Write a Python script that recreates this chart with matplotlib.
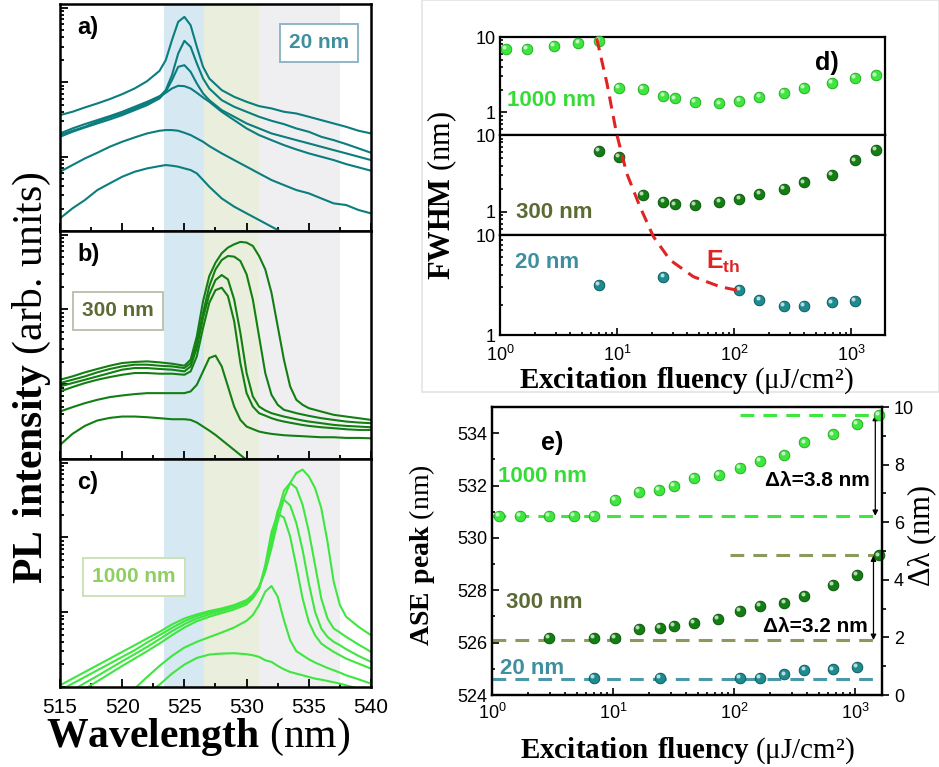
import numpy as np
import matplotlib
matplotlib.use("Agg")
import matplotlib.pyplot as plt
from matplotlib.patches import Rectangle
from matplotlib.transforms import offset_copy
from matplotlib.ticker import LogLocator, MultipleLocator, NullFormatter, FixedLocator, FixedFormatter

plt.rcParams['font.family'] = ['Liberation Sans', 'DejaVu Sans']
plt.rcParams['mathtext.fontset'] = 'custom'
plt.rcParams['mathtext.rm'] = 'Liberation Sans'
plt.rcParams['mathtext.bf'] = 'Liberation Serif:bold'

# ---------------- spectra (log10 of PL intensity, arb. units) ----------------
wl_a = [515, 516, 517, 518, 519, 520, 521, 522, 523, 523.5, 524, 524.5, 525, 525.5,
        526, 526.5, 527, 528, 529, 530, 531, 532, 533, 534, 535, 536, 537, 538, 539, 540]
a_logI = [
    [1.557, 1.602, 1.660, 1.714, 1.772, 1.839, 1.915, 2.013, 2.152, 2.295, 2.564, 2.810, 2.877, 2.765, 2.474,
     2.206, 2.049, 1.893, 1.803, 1.736, 1.678, 1.647, 1.602, 1.579, 1.535, 1.490, 1.445, 1.400, 1.347, 1.311],
    [1.289, 1.347, 1.400, 1.468, 1.526, 1.579, 1.647, 1.714, 1.803, 1.893, 2.094, 2.385, 2.555, 2.474, 2.251,
     2.049, 1.915, 1.758, 1.669, 1.602, 1.535, 1.481, 1.436, 1.378, 1.333, 1.266, 1.221, 1.168, 1.110, 1.051],
    [1.266, 1.333, 1.391, 1.445, 1.499, 1.557, 1.624, 1.691, 1.781, 1.870, 2.027, 2.206, 2.228, 2.139, 1.982,
     1.848, 1.758, 1.624, 1.535, 1.445, 1.378, 1.311, 1.266, 1.221, 1.177, 1.132, 1.087, 1.043, 0.998, 0.953],
    [1.311, 1.378, 1.436, 1.490, 1.544, 1.602, 1.669, 1.736, 1.812, 1.857, 1.915, 1.951, 1.946, 1.915, 1.857,
     1.794, 1.736, 1.602, 1.490, 1.378, 1.289, 1.221, 1.154, 1.096, 1.043, 0.998, 0.953, 0.899, 0.855, 0.810],
    [0.796, 0.886, 0.975, 1.051, 1.132, 1.199, 1.257, 1.311, 1.347, 1.356, 1.356, 1.347, 1.320, 1.289, 1.244,
     1.199, 1.141, 1.043, 0.953, 0.864, 0.774, 0.685, 0.617, 0.550, 0.506, 0.438, 0.371, 0.349, 0.282, 0.237],
    [0.170, 0.304, 0.416, 0.550, 0.640, 0.729, 0.796, 0.841, 0.872, 0.886, 0.877, 0.864, 0.841, 0.819, 0.774,
     0.685, 0.595, 0.438, 0.327, 0.237, 0.148, 0.058, -0.031, -0.121, -0.166, -0.210, -0.255, -0.300, -0.345, -0.389],
]

wl_b = [515, 516, 517, 518, 519, 520, 521, 522, 523, 524, 525,
        525.5, 526, 526.5, 527, 527.5, 528, 528.5, 529, 529.5, 530, 530.5, 531, 531.5, 532, 532.5,
        533, 533.5, 534, 534.5, 535, 536, 537, 538, 539, 540]
b_logI = [
    [1.060, 1.105, 1.159, 1.204, 1.248, 1.284, 1.298, 1.306, 1.293, 1.275, 1.248,
     1.329, 1.642, 2.112, 2.447, 2.626, 2.752, 2.828, 2.872, 2.904, 2.895, 2.850, 2.716, 2.537, 2.224, 1.776,
     1.329, 0.971, 0.792, 0.725, 0.680, 0.635, 0.591, 0.568, 0.546, 0.523],
    [1.016, 1.060, 1.105, 1.159, 1.204, 1.239, 1.262, 1.262, 1.248, 1.239, 1.217,
     1.284, 1.553, 1.955, 2.313, 2.537, 2.662, 2.716, 2.707, 2.649, 2.470, 2.134, 1.642, 1.150, 0.859, 0.725,
     0.658, 0.636, 0.613, 0.595, 0.577, 0.546, 0.523, 0.501, 0.488, 0.479],
    [0.971, 1.016, 1.060, 1.105, 1.150, 1.195, 1.217, 1.217, 1.204, 1.195, 1.172,
     1.239, 1.485, 1.888, 2.201, 2.394, 2.461, 2.403, 2.134, 1.687, 1.150, 0.837, 0.702, 0.650, 0.613, 0.590,
     0.568, 0.550, 0.532, 0.515, 0.501, 0.479, 0.456, 0.443, 0.434, 0.425],
    [0.904, 0.962, 1.016, 1.060, 1.096, 1.127, 1.150, 1.150, 1.141, 1.141, 1.127,
     1.172, 1.374, 1.754, 2.089, 2.259, 2.291, 2.179, 1.843, 1.284, 0.881, 0.702, 0.613, 0.580, 0.546, 0.520,
     0.501, 0.485, 0.470, 0.455, 0.443, 0.425, 0.412, 0.398, 0.389, 0.389],
    [0.635, 0.693, 0.747, 0.792, 0.828, 0.850, 0.868, 0.881, 0.881, 0.881, 0.881,
     0.904, 0.993, 1.172, 1.351, 1.383, 1.239, 0.971, 0.702, 0.523, 0.434, 0.400, 0.367, 0.350, 0.336, 0.327,
     0.318, 0.313, 0.309, 0.305, 0.300, 0.291, 0.291, 0.282, 0.282, 0.277],
    [0.188, 0.336, 0.443, 0.515, 0.550, 0.568, 0.568, 0.559, 0.546, 0.532, 0.532,
     0.523, 0.488, 0.434, 0.380, 0.322, 0.255, 0.188, 0.121, 0.054, -0.013, -0.081, -0.148, -0.190, -0.237, -0.280,
     -0.327, -0.370, -0.410, -0.450, -0.490, -0.530, -0.570, -0.600, -0.630, -0.660],
]

wl_c = [515, 516, 517, 518, 519, 520, 521, 522, 523, 524, 525, 526, 527, 528, 529, 530,
        530.5, 531, 531.5, 532, 532.5, 533, 533.5, 534, 534.5, 535, 535.5, 536, 536.5, 537, 537.5, 538,
        539, 540]
c_logI = [
    [0.022, 0.112, 0.201, 0.291, 0.380, 0.470, 0.559, 0.649, 0.738, 0.837, 0.917, 0.971, 1.016, 1.051, 1.096, 1.163,
     1.230, 1.342, 1.544, 1.857, 2.215, 2.528, 2.729, 2.863, 2.908, 2.818, 2.662, 2.394, 1.946, 1.409, 1.096, 0.940,
     0.805, 0.693],
    [-0.045, 0.045, 0.134, 0.224, 0.313, 0.403, 0.492, 0.595, 0.693, 0.792, 0.881, 0.949, 0.998, 1.038, 1.087, 1.150,
     1.221, 1.329, 1.566, 1.924, 2.327, 2.626, 2.729, 2.662, 2.438, 2.081, 1.633, 1.186, 0.917, 0.783, 0.729, 0.671,
     0.568, 0.470],
    [-0.134, -0.045, 0.054, 0.148, 0.246, 0.344, 0.438, 0.537, 0.640, 0.747, 0.841, 0.917, 0.971, 1.016, 1.065, 1.132,
     1.208, 1.320, 1.588, 1.991, 2.358, 2.505, 2.429, 2.192, 1.834, 1.387, 1.007, 0.783, 0.671, 0.604, 0.559, 0.506,
     0.416, 0.336],
    [-0.224, -0.121, -0.022, 0.076, 0.179, 0.282, 0.380, 0.479, 0.582, 0.693, 0.796, 0.881, 0.940, 0.989, 1.038, 1.105,
     1.186, 1.311, 1.633, 2.072, 2.313, 2.268, 2.013, 1.611, 1.186, 0.872, 0.693, 0.582, 0.523, 0.470, 0.425, 0.380,
     0.313, 0.246],
    [-0.559, -0.480, -0.410, -0.336, -0.250, -0.157, -0.022, 0.134, 0.282, 0.416, 0.528, 0.604, 0.667, 0.729, 0.796, 0.886,
     0.962, 1.096, 1.275, 1.351, 1.208, 0.895, 0.626, 0.479, 0.425, 0.371, 0.327, 0.291, 0.255, 0.224, 0.192, 0.157,
     0.103, 0.045],
    [-0.917, -0.783, -0.649, -0.515, -0.380, -0.291, -0.201, -0.089, 0.031, 0.179, 0.300, 0.389, 0.434, 0.447, 0.452, 0.438,
     0.425, 0.403, 0.358, 0.336, 0.282, 0.237, 0.201, 0.179, 0.157, 0.134, 0.112, 0.098, 0.081, 0.063, 0.045, 0.022,
     -0.022, -0.089],
]

band_edges = [523.4, 526.6, 531.0, 537.5]
band_colors = ['#d6e9f2', '#e9eedd', '#efeff1']

# ---------------- FWHM vs fluency (panel d) ----------------
d_flu_1000 = [1.12, 1.69, 2.89, 4.67, 6.97, 10.3, 16.6, 24.9, 31.3, 46.4, 75, 111, 165, 267, 396, 684, 1080, 1640]
d_fwhm_1000 = [6.95, 6.95, 7.69, 8.34, 8.77, 2.13, 2.03, 1.66, 1.53, 1.38, 1.31, 1.42, 1.62, 1.83, 2.09, 2.48, 2.83, 3.10]
d_flu_300 = [6.97, 10.3, 16.6, 24.9, 31.3, 46.4, 75, 111, 165, 267, 396, 684, 1080, 1640]
d_fwhm_300 = [6.25, 5.14, 1.68, 1.34, 1.25, 1.24, 1.34, 1.48, 1.71, 1.99, 2.42, 3.03, 4.66, 6.44]
d_flu_20 = [6.97, 24.9, 111, 165, 267, 396, 684, 1080]
d_fwhm_20 = [3.16, 3.83, 2.82, 2.24, 1.96, 1.95, 2.12, 2.19]
# threshold guide, in units of the whole stacked panel (1 .. ~10^3)
eth_x = [6.7, 8.2, 9.9, 12.1, 15.7, 20.5, 28.4, 44.9, 75.9, 112]
eth_y = [926, 329, 104, 41.4, 19.2, 9.6, 5.62, 3.83, 3.04, 2.77]

# ---------------- ASE peak vs fluency (panel e) ----------------
e_flu_1000 = [1.14, 1.71, 2.94, 4.73, 6.92, 10.3, 16.3, 23.8, 31.7, 46.4, 74.6, 111, 163, 261, 381, 658, 1040, 1570]
e_peak_1000 = [530.84, 530.84, 530.84, 530.84, 530.84, 531.44, 531.77, 531.84, 531.99, 532.29, 532.40,
               532.66, 532.95, 533.17, 533.65, 533.95, 534.36, 534.70]
e_flu_300 = [2.94, 6.92, 10.3, 16.3, 24.3, 31.7, 46.4, 73.6, 111, 163, 261, 381, 658, 1040, 1570]
e_peak_300 = [526.17, 526.17, 526.17, 526.52, 526.56, 526.65, 526.75, 526.90, 527.20, 527.39, 527.52,
              527.77, 528.19, 528.60, 529.33]
e_flu_20 = [6.92, 24.3, 111, 163, 261, 381, 658, 1040]
e_peak_20 = [524.66, 524.66, 524.66, 524.66, 524.79, 524.96, 524.98, 525.06]
ref_1000 = [530.84, 534.70]
ref_300 = [526.10, 529.33]
ref_20 = 524.60
ref_start = [112, 93]
shift_x = [1470, 1420]

# ---------------- colours ----------------
c_teal, c_dgreen, c_lgreen = '#0b7d7e', '#137f13', '#3fe63f'
lab_teal, lab_olive, lab_green = '#3f8f9f', '#5c6b33', '#35dc35'

W, H = 939, 767
fig = plt.figure(figsize=(W / 100, H / 100), dpi=100)


def rect(x0, y0, x1, y1):
    return [x0 / W, 1 - y1 / H, (x1 - x0) / W, (y1 - y0) / H]


def fx(px):
    return px / W


def fy(py):
    return 1 - py / H


def style_spines(ax, lw=1.6):
    for s in ax.spines.values():
        s.set_linewidth(lw)


def balls(ax, x, y, color, edge, ms=7.6):
    ax.plot(x, y, 'o', ms=ms, mfc=color, mec=edge, mew=0.7, ls='none', zorder=5, clip_on=False)
    hl = offset_copy(ax.transData, fig=fig, x=-1.3, y=1.3, units='points')
    ax.plot(x, y, 'o', ms=ms * 0.38, mfc='white', mec='none', alpha=0.7, ls='none',
            zorder=6, transform=hl, clip_on=False)


# ================= left: spectra =================
panels = [((60, 4, 371, 231), wl_a, a_logI, c_teal),
          ((60, 231, 371, 459), wl_b, b_logI, c_dgreen),
          ((60, 459, 371, 687), wl_c, c_logI, c_lgreen)]
left_axes = []
for i, (r, wl, curves, col) in enumerate(panels):
    ax = fig.add_axes(rect(*r))
    for k in range(3):
        ax.axvspan(band_edges[k], band_edges[k + 1], color=band_colors[k], lw=0, zorder=0)
    for logI in curves:
        ax.plot(wl, 10 ** np.array(logI), color=col, lw=1.5, zorder=2)
    ax.set_xlim(515, 540)
    ax.set_yscale('log')
    ax.set_ylim(1, 10 ** 3.05)
    ax.xaxis.set_major_locator(MultipleLocator(5))
    ax.xaxis.set_minor_locator(MultipleLocator(2.5))
    ax.yaxis.set_major_locator(LogLocator(base=10, numticks=10))
    ax.yaxis.set_minor_locator(LogLocator(base=10, subs=np.arange(2, 10), numticks=10))
    ax.yaxis.set_major_formatter(NullFormatter())
    ax.yaxis.set_minor_formatter(NullFormatter())
    ax.tick_params(which='both', direction='in', top=False, right=False, width=1.3)
    ax.tick_params(which='major', length=6)
    ax.tick_params(which='minor', length=3)
    ax.tick_params(axis='x', labelsize=15, pad=8)
    if i < 2:
        ax.tick_params(axis='x', labelbottom=False)
    style_spines(ax, 1.8)
    left_axes.append(ax)

for ax, tag in zip(left_axes, ['a)', 'b)', 'c)']):
    ax.text(0.055, 0.895, tag, transform=ax.transAxes, fontsize=17, fontweight='bold', va='center')

box_kw = dict(fontsize=15, fontweight='bold', ha='center', va='center')
fig.text(fx(319), fy(43), '20 nm', color=lab_teal,
         bbox=dict(boxstyle='square,pad=0.45', fc='white', ec='#8fb5c4', lw=1.4), **box_kw)
fig.text(fx(118), fy(311), '300 nm', color=lab_olive,
         bbox=dict(boxstyle='square,pad=0.45', fc='white', ec='#bcc3ad', lw=1.4), **box_kw)
fig.text(fx(134), fy(577), '1000 nm', color='#8fcf62',
         bbox=dict(boxstyle='square,pad=0.45', fc='white', ec='#cde2b8', lw=1.4), **box_kw)

fig.text(fx(32), fy(378), r'$\mathbf{PL\ intensity}$ (arb. units)', rotation=90,
         family='Liberation Serif', fontsize=30, ha='center', va='center')
fig.text(fx(198), fy(737), r'$\mathbf{Wavelength}$ (nm)',
         family='Liberation Serif', fontsize=30, ha='center', va='center')

# ================= panel d: FWHM =================
fig.patches.append(Rectangle((fx(422), fy(392)), (W - 422) / W, 392 / H, transform=fig.transFigure,
                             fill=False, ec='#e4e4e4', lw=1.2))

d_rows = [((500, 37, 885, 135), (0.5, 10), d_flu_1000, d_fwhm_1000, c_lgreen, '#22b022'),
          ((500, 135, 885, 235), (0.5, 10), d_flu_300, d_fwhm_300, c_dgreen, '#0b560b'),
          ((500, 235, 885, 335), (1, 10), d_flu_20, d_fwhm_20, '#1d8c91', '#0c5b5e')]
d_axes = []
for j, (r, yl, xs, ys, col, edge) in enumerate(d_rows):
    ax = fig.add_axes(rect(*r))
    ax.set_xscale('log')
    ax.set_yscale('log')
    ax.set_xlim(1, 1950)
    ax.set_ylim(*yl)
    balls(ax, xs, ys, col, edge)
    ax.yaxis.set_major_locator(FixedLocator([1, 10]))
    ax.yaxis.set_major_formatter(FixedFormatter(['1', '10']))
    ax.yaxis.set_minor_locator(LogLocator(base=10, subs=np.arange(2, 10), numticks=10))
    ax.yaxis.set_minor_formatter(NullFormatter())
    ax.tick_params(which='both', direction='in', top=False, right=False, width=1.2, labelsize=13)
    ax.tick_params(which='major', length=5, pad=3)
    ax.tick_params(which='minor', length=2.5)
    if j < 2:
        ax.tick_params(which='both', bottom=False, labelbottom=False)
    else:
        ax.xaxis.set_major_locator(LogLocator(base=10, numticks=10))
        ax.xaxis.set_minor_locator(LogLocator(base=10, subs=np.arange(2, 10), numticks=10))
        ax.xaxis.set_minor_formatter(NullFormatter())
        ax.tick_params(axis='x', pad=7)
        for lab in ax.get_yticklabels():
            lab.set_verticalalignment('center_baseline')
    style_spines(ax, 1.6)
    d_axes.append(ax)

ax_eth = fig.add_axes(rect(500, 37, 885, 335))
ax_eth.set_xscale('log')
ax_eth.set_yscale('log')
ax_eth.set_xlim(1, 1950)
ax_eth.set_ylim(1, 10 ** 2.98)
ax_eth.axis('off')
ax_eth.plot(eth_x, eth_y, color='#e02424', lw=2.2, dashes=(4, 2.5), zorder=4)

lab_kw = dict(fontsize=16, fontweight='bold', va='center', ha='left')
fig.text(fx(507), fy(100), '1000 nm', color=lab_green, **lab_kw)
fig.text(fx(516), fy(213), '300 nm', color=lab_olive, **lab_kw)
fig.text(fx(515), fy(263), '20 nm', color=lab_teal, **lab_kw)
fig.text(fx(815), fy(63), 'd)', fontsize=18, fontweight='bold', va='center', ha='left')
fig.text(fx(706), fy(262), r'$\mathdefault{E_{th}}$', color='#e02424', fontsize=18,
         fontweight='bold', va='center', ha='left')

fig.text(fx(686), fy(381), r'$\mathbf{Excitation\ fluency}$ (μJ/cm²)',
         family='Liberation Serif', fontsize=21, ha='center', va='center')
fig.text(fx(442), fy(195), r'$\mathbf{FWHM}$ (nm)', rotation=90,
         family='Liberation Serif', fontsize=22, ha='center', va='center')

# ================= panel e: ASE peak =================
ax_e = fig.add_axes(rect(492, 407, 882, 695))
ax_e.set_xscale('log')
ax_e.set_xlim(1, 1670)
ax_e.set_ylim(524, 535)
dash_kw = dict(lw=2.2, linestyles=(0, (4.5, 3)), zorder=3)
ax_e.hlines(ref_1000[0], 1, 1670, colors=c_lgreen, **dash_kw)
ax_e.hlines(ref_1000[1], ref_start[0], 1670, colors=c_lgreen, **dash_kw)
ax_e.hlines(ref_300[0], 1, 1670, colors='#8a9a5c', **dash_kw)
ax_e.hlines(ref_300[1], ref_start[1], 1670, colors='#8a9a5c', **dash_kw)
ax_e.hlines(ref_20, 1, 1670, colors='#4a98a8', **dash_kw)
balls(ax_e, e_flu_1000, e_peak_1000, c_lgreen, '#22b022')
balls(ax_e, e_flu_300, e_peak_300, c_dgreen, '#0b560b')
balls(ax_e, e_flu_20, e_peak_20, '#1d8c91', '#0c5b5e')
arrow_kw = dict(arrowstyle='<|-|>', lw=0.9, color='black', mutation_scale=8, shrinkA=0, shrinkB=0)
ax_e.annotate('', xy=(shift_x[0], ref_1000[0]), xytext=(shift_x[0], ref_1000[1]), arrowprops=arrow_kw)
ax_e.annotate('', xy=(shift_x[1], ref_300[0]), xytext=(shift_x[1], ref_300[1]), arrowprops=arrow_kw)

ax_e.yaxis.set_major_locator(MultipleLocator(2))
ax_e.yaxis.set_minor_locator(MultipleLocator(1))
ax_e.xaxis.set_major_locator(LogLocator(base=10, numticks=10))
ax_e.xaxis.set_minor_locator(LogLocator(base=10, subs=np.arange(2, 10), numticks=10))
ax_e.xaxis.set_minor_formatter(NullFormatter())
ax_e.tick_params(which='both', direction='in', top=False, right=False, width=1.2, labelsize=13)
ax_e.tick_params(which='major', length=5)
ax_e.tick_params(which='minor', length=2.5)
ax_e.tick_params(axis='x', pad=6)
style_spines(ax_e, 1.6)

ax_r = ax_e.twinx()
ax_r.set_ylim(0, 10)
ax_r.yaxis.set_major_locator(MultipleLocator(2))
ax_r.yaxis.set_minor_locator(MultipleLocator(1))
ax_r.tick_params(which='both', direction='out', width=1.2, labelsize=13)
ax_r.tick_params(which='major', length=5)
ax_r.tick_params(which='minor', length=3)
style_spines(ax_r, 1.6)

fig.text(fx(498), fy(477), '1000 nm', color=lab_green, **lab_kw)
fig.text(fx(506), fy(602), '300 nm', color=lab_olive, **lab_kw)
fig.text(fx(500), fy(668), '20 nm', color=lab_teal, **lab_kw)
fig.text(fx(541), fy(443), 'e)', fontsize=18, fontweight='bold', va='center', ha='left')
fig.text(fx(870), fy(480), 'Δλ=3.8 nm', fontsize=15, fontweight='bold', va='center', ha='right')
fig.text(fx(868), fy(627), 'Δλ=3.2 nm', fontsize=15, fontweight='bold', va='center', ha='right')

fig.text(fx(687), fy(751), r'$\mathbf{Excitation\ fluency}$ (μJ/cm²)',
         family='Liberation Serif', fontsize=21, ha='center', va='center')
fig.text(fx(422), fy(555), r'$\mathbf{ASE\ peak}$ (nm)', rotation=90,
         family='Liberation Serif', fontsize=20, ha='center', va='center')
fig.text(fx(922), fy(535), 'Δλ (nm)', rotation=90,
         family='Liberation Serif', fontsize=22, ha='center', va='center')

fig.savefig('out.png', dpi=100)
